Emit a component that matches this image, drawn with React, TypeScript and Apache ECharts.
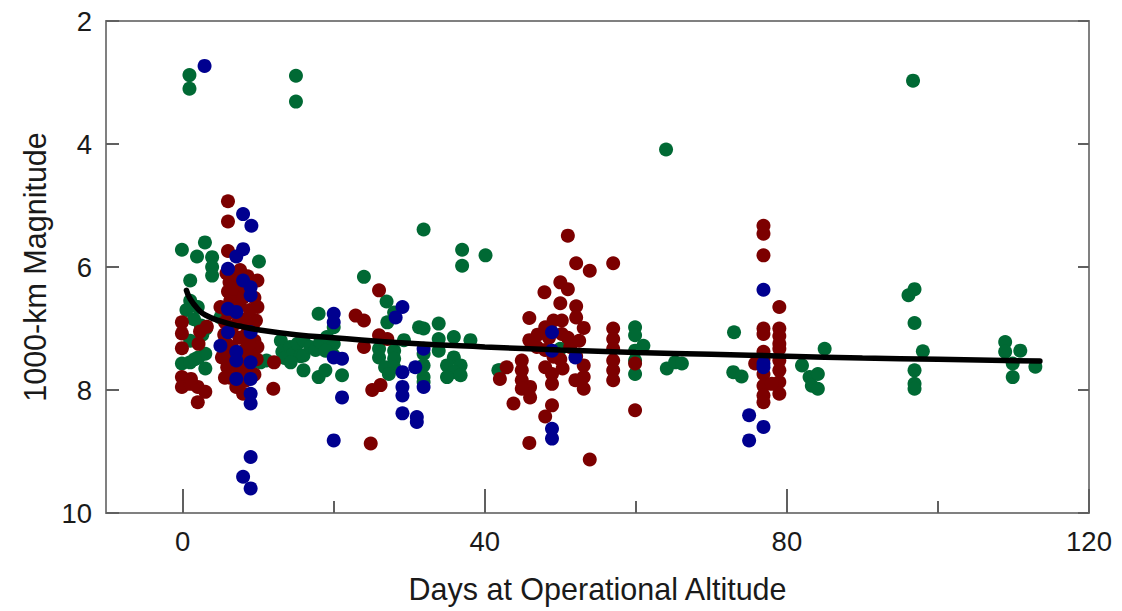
import React, { useEffect, useRef } from "react";
import * as echarts from "echarts";

const xMajorTicks = [0, 40, 80, 120];
const xMinorTicks = [20, 60, 100];

const greenPoints: number[][] = [
  [0.9, 2.88], [0.9, 3.1], [15, 2.89], [15, 3.31], [64, 4.09], [96.7, 2.97], [31.9, 5.39],
  [-0.1, 5.72], [2.95, 5.6], [1.9, 5.83], [3.9, 5.84], [3.9, 6.0], [3.9, 6.14], [10.1, 5.91], [1.0, 6.22],
  [1.0, 6.55], [0.5, 6.7], [2.0, 6.65], [1.5, 6.85], [2.4, 6.95], [1.0, 7.2], [2.6, 7.1], [3.1, 7.0], [5.0, 6.82],
  [-0.1, 7.57], [1.0, 7.55], [2.1, 7.47], [3.0, 7.41], [3.0, 7.65], [1.6, 7.5],
  [8.1, 7.65], [9.2, 7.57], [10.3, 7.55], [11.1, 7.52],
  [13, 7.2], [13.2, 7.38], [13.5, 7.48], [14.2, 7.3], [14.6, 7.42], [15.2, 7.25], [15.6, 7.45], [16, 7.19],
  [16, 7.44], [16.9, 7.3], [17.6, 7.35], [18.2, 7.22], [14.3, 7.55], [16, 7.68], [18, 7.79], [18.9, 7.68],
  [19.1, 7.14], [20, 7.25], [18.9, 7.36], [20, 7.44], [21.1, 7.76],
  [37, 5.72], [37, 5.98], [40.1, 5.81], [24, 6.16], [27, 6.56], [18, 6.76], [28, 6.74], [27.1, 6.9], [20, 6.98],
  [31.3, 6.98], [31.9, 7.0], [33.9, 6.92], [35.9, 7.14], [38.1, 7.19], [33.9, 7.17], [33.9, 7.36], [26, 7.33],
  [26, 7.47], [28, 7.36], [28, 7.49], [29.3, 7.19], [26.8, 7.63], [28, 7.63], [27.3, 7.74], [31.9, 7.41],
  [31.9, 7.6], [31.9, 7.79], [31.9, 7.87], [35.9, 7.47], [35, 7.6], [36.8, 7.6], [35.9, 7.71], [35, 7.79],
  [36.8, 7.76], [41.8, 7.68],
  [50, 7.33], [42, 7.68], [59.9, 6.98], [59.9, 7.11], [61, 7.28], [59.9, 7.36], [59.9, 7.52], [59.9, 7.74],
  [64.1, 7.65], [65.2, 7.55], [66.1, 7.57],
  [73, 7.06], [72.9, 7.71], [74, 7.78], [85, 7.33], [82, 7.6], [83, 7.79], [84.1, 7.74], [83.3, 7.93], [84.1, 7.98],
  [96.1, 6.46], [96.9, 6.36], [96.9, 6.91], [98, 7.37], [96.9, 7.68], [96.9, 7.9], [96.9, 7.98],
  [108.9, 7.22], [108.9, 7.38], [110.9, 7.36], [109.9, 7.57], [109.9, 7.79], [112.9, 7.62],
];

const redPoints: number[][] = [
  [6.0, 4.93], [6.0, 5.26], [6.0, 5.74],
  [5.8, 6.1], [6.2, 6.25], [6.0, 6.4], [6.3, 6.55], [5.0, 6.65], [6.0, 6.75], [7.0, 6.2], [7.2, 6.45], [7.5, 6.6],
  [8.6, 6.15], [9.9, 6.22], [9.5, 6.5], [9.9, 6.65], [9.7, 6.87], [8.5, 6.9], [7.3, 6.9], [6.5, 7.0], [5.5, 7.1],
  [5.8, 7.25], [6.5, 7.3], [7.5, 7.15], [8.4, 7.1], [9.5, 7.2], [9.9, 7.3], [8.2, 7.35], [5.2, 7.47], [5.9, 7.63],
  [6.6, 7.55], [8.0, 7.45], [9.0, 7.4], [7.6, 7.7], [8.6, 7.62], [6.3, 7.8], [9.5, 7.75],
  [6.8, 6.35], [8.0, 6.5], [8.9, 6.7], [6.9, 6.7], [5.6, 6.9], [7.8, 6.85], [9.3, 6.95], [6.1, 7.45],
  [8.8, 7.25], [7.0, 7.6], [5.6, 7.8], [8.3, 7.85], [9.8, 7.5], [7.6, 6.05], [8.3, 6.35],
  [-0.1, 6.9], [-0.1, 7.08], [-0.1, 7.32], [2.1, 7.25], [2.3, 7.05], [3.2, 6.97],
  [12.1, 7.55], [-0.1, 7.79], [-0.1, 7.95], [1.0, 7.9], [2.0, 7.95], [3.0, 8.03], [2.0, 8.2], [1.1, 7.82],
  [7.1, 7.95], [8.0, 8.06], [12.0, 7.98],
  [22.9, 6.79], [24, 6.87], [26, 6.38], [26, 7.11], [27.1, 7.17], [24, 7.3], [25.1, 8.0], [26.2, 7.92], [24.9, 8.87],
  [51, 5.49], [52.1, 5.94], [53.9, 6.06], [57, 5.94], [50, 6.25], [51, 6.36], [47.9, 6.41], [50, 6.59],
  [52.1, 6.64], [52.1, 6.82], [45.9, 6.83], [53.1, 6.99], [48, 6.98], [49.1, 6.87], [50.2, 6.87], [50.2, 7.09],
  [45.9, 7.19], [57, 7.0], [57, 7.17], [57, 7.33], [57, 7.52], [57, 7.68], [57, 7.84], [46.9, 7.3], [48, 7.35],
  [49.1, 7.46], [50, 7.5], [51.3, 7.3], [52.1, 7.45], [47, 7.1], [48.5, 7.15], [51, 7.15], [52.5, 7.2],
  [44.9, 7.52], [44.9, 7.68], [42.9, 7.63], [42, 7.82], [44.9, 7.84], [46, 7.95], [44.9, 7.98], [46, 8.12],
  [48.9, 7.9], [48.9, 7.74], [48, 7.63], [52, 7.84], [53.1, 7.79], [53.1, 7.98], [53.1, 7.6], [50.3, 7.65],
  [43.8, 8.22], [48.9, 8.25], [48, 8.43], [45.9, 8.86], [53.9, 9.13], [59.9, 8.33], [59.9, 7.57],
  [76.9, 5.33], [76.9, 5.46], [76.9, 5.81], [79, 6.65], [76.9, 7.0], [76.9, 7.09], [79, 7.0], [79, 7.12],
  [76.9, 7.38], [79, 7.33], [75.8, 7.57], [79, 7.52], [79, 7.68], [79, 7.87], [79, 8.06], [76.9, 7.74],
  [76.9, 7.93], [76.9, 8.09], [76.9, 8.2], [78, 7.9], [79, 7.25], [76.9, 7.5],
];

const bluePoints: number[][] = [
  [2.9, 2.73], [8.0, 5.14], [9.1, 5.33], [8.0, 5.71], [7.1, 5.83], [6.0, 6.03], [8.0, 6.22], [9.0, 6.33],
  [9.0, 6.46], [6.0, 6.68], [7.1, 6.73], [6.0, 7.06], [9.0, 7.06], [5.0, 7.28], [7.1, 7.38], [7.1, 7.52],
  [7.1, 7.82], [9.0, 7.82], [9.0, 8.06], [9.0, 8.22], [9.0, 9.09], [8.0, 9.41], [9.0, 9.6], [9.0, 7.55],
  [20, 6.76], [20, 6.9], [29.1, 6.65], [28.2, 6.82], [20, 7.47], [21.1, 7.49], [31.9, 7.33], [30.8, 7.63],
  [29.1, 7.71], [29.1, 7.95], [29.1, 8.09], [29.1, 8.38], [31, 8.44], [31, 8.52], [31.9, 7.95], [21.1, 8.12],
  [20, 8.82],
  [48.9, 7.06], [48.9, 7.36], [52, 7.47], [48.9, 8.63], [48.9, 8.79],
  [76.9, 6.37], [76.9, 7.57], [76.9, 7.63], [75, 8.41], [76.9, 8.6], [75, 8.82],
];

const fitCurve: number[][] = [
  [0.5, 6.38], [1, 6.52], [2, 6.68], [3, 6.78], [5, 6.88], [7.5, 6.96], [10, 7.02], [15, 7.1], [20, 7.15],
  [30, 7.24], [40, 7.3], [50, 7.35], [60, 7.39], [70, 7.42], [80, 7.45], [90, 7.48], [100, 7.5], [113.5, 7.53],
];

const FONT = "'Liberation Sans', Arial, sans-serif";
const AXIS_COLOR = "#808080";
const TICK_COLOR = "#606060";
const TEXT_COLOR = "#1a1a1a";
const X_MIN = -10.15;
const X_MAX = 120;

export default function App() {
  const ref = useRef<HTMLDivElement>(null);
  useEffect(() => {
    if (!ref.current) return;
    const chart = echarts.init(ref.current, null, { renderer: "svg" });
    const scatterCommon = {
      type: "scatter",
      symbol: "circle",
      symbolSize: 14,
      xAxisIndex: 0,
      yAxisIndex: 0,
    };
    chart.setOption({
      animation: false,
      backgroundColor: "#ffffff",
      grid: { left: 106, right: 33, top: 21, bottom: 98, containLabel: false },
      xAxis: [
        {
          type: "value",
          position: "bottom",
          min: X_MIN,
          max: X_MAX,
          name: "Days at Operational Altitude",
          nameLocation: "middle",
          nameGap: 60,
          nameTextStyle: { fontFamily: FONT, fontSize: 30.5, color: TEXT_COLOR },
          axisLine: { show: true, onZero: false, lineStyle: { color: AXIS_COLOR, width: 2 } },
          axisTick: { show: true, inside: true, length: 24, customValues: xMajorTicks, lineStyle: { color: TICK_COLOR, width: 2 } },
          axisLabel: { show: true, customValues: xMajorTicks, margin: 14, fontFamily: FONT, fontSize: 27.5, color: TEXT_COLOR },
          splitLine: { show: false },
        },
        {
          type: "value",
          position: "bottom",
          min: X_MIN,
          max: X_MAX,
          axisLine: { show: false, onZero: false },
          axisTick: { show: true, inside: true, length: 12, customValues: xMinorTicks, lineStyle: { color: TICK_COLOR, width: 2 } },
          axisLabel: { show: false },
          splitLine: { show: false },
        },
        {
          type: "value",
          position: "top",
          min: X_MIN,
          max: X_MAX,
          axisLine: { show: true, onZero: false, lineStyle: { color: AXIS_COLOR, width: 2 } },
          axisTick: { show: false },
          axisLabel: { show: false },
          splitLine: { show: false },
        },
      ],
      yAxis: [
        {
          type: "value",
          position: "left",
          inverse: true,
          min: 2,
          max: 10,
          interval: 2,
          name: "1000-km Magnitude",
          nameLocation: "middle",
          nameGap: 56,
          nameTextStyle: { fontFamily: FONT, fontSize: 30.5, color: TEXT_COLOR },
          axisLine: { show: true, onZero: false, lineStyle: { color: AXIS_COLOR, width: 2 } },
          axisTick: { show: true, inside: true, length: 13, lineStyle: { color: TICK_COLOR, width: 2 } },
          axisLabel: { show: true, margin: 14, fontFamily: FONT, fontSize: 27.5, color: TEXT_COLOR },
          splitLine: { show: false },
        },
        {
          type: "value",
          position: "right",
          inverse: true,
          min: 2,
          max: 10,
          interval: 2,
          axisLine: { show: true, onZero: false, lineStyle: { color: AXIS_COLOR, width: 2 } },
          axisTick: { show: true, inside: true, length: 11, lineStyle: { color: TICK_COLOR, width: 2 } },
          axisLabel: { show: false },
          splitLine: { show: false },
        },
      ],
      series: [
        { ...scatterCommon, name: "green", data: greenPoints, itemStyle: { color: "#006934", opacity: 1 } },
        { ...scatterCommon, name: "red", data: redPoints, itemStyle: { color: "#7c0000", opacity: 1 } },
        { ...scatterCommon, name: "blue", data: bluePoints, itemStyle: { color: "#00008f", opacity: 1 } },
        {
          type: "line",
          name: "fit",
          data: fitCurve,
          xAxisIndex: 0,
          yAxisIndex: 0,
          smooth: true,
          showSymbol: false,
          symbol: "none",
          lineStyle: { color: "#000000", width: 5.5, cap: "round" },
          z: 5,
        },
      ],
    });
    return () => chart.dispose();
  }, []);
  return (
    <div
      ref={ref}
      style={{ position: "absolute", left: 0, top: 0, width: 1122, height: 611 }}
    />
  );
}
